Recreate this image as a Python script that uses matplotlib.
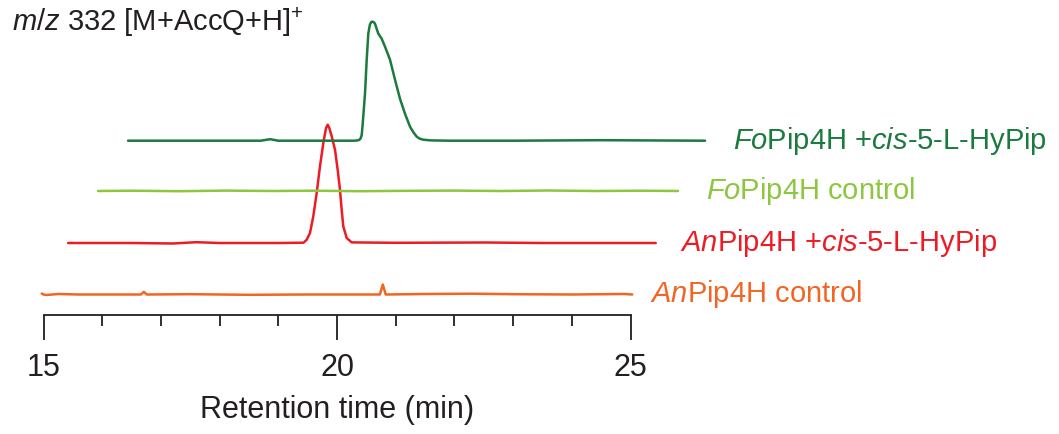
import matplotlib
matplotlib.use("Agg")
import numpy as np
from matplotlib import pyplot as plt

plt.rcParams['font.family'] = ['Liberation Sans', 'DejaVu Sans']
plt.rcParams['mathtext.fontset'] = 'custom'
plt.rcParams['mathtext.rm'] = 'Liberation Sans'
plt.rcParams['mathtext.it'] = 'Liberation Sans:italic'

# traces: retention time (min) and signal above baseline (a.u.)
an_ctrl_t = [14.97, 15.0, 15.05, 15.25, 15.6, 16.0, 16.66, 16.71, 16.76, 17.5, 18.5,
             19.5, 20.5, 20.73, 20.78, 20.83, 21.5, 22.3, 23.0, 24.0, 24.9, 25.03]
an_ctrl_h = [1.0, 0.0, -0.5, 0.5, 0.0, 0.0, 0.0, 2.7, 0.0, 0.3, -0.3,
             0.0, 0.0, 0.0, 10.0, 0.0, 0.5, 0.8, 0.3, 0.0, 0.5, 0.0]

an_hyp_t = [15.42, 16.5, 17.2, 17.6, 18.0, 19.0, 19.43, 19.484, 19.54, 19.596, 19.654,
            19.71, 19.767, 19.813, 19.842, 19.869, 19.91, 19.966, 20.012, 20.051,
            20.08, 20.107, 20.165, 20.25, 21.0, 22.5, 23.5, 25.43]
an_hyp_h = [0.0, 0.0, -0.5, 0.8, 0.0, 0.0, 0.3, 3.3, 10.0, 26.7, 50.0,
            76.7, 100.0, 115.0, 118.3, 115.0, 106.7, 93.3, 73.0, 53.0,
            33.0, 16.7, 5.0, 0.6, 0.2, 0.5, 0.0, 0.0]

fo_ctrl_t = [15.93, 16.5, 17.3, 18.1, 18.9, 19.6, 20.4, 21.2, 22.0, 22.8, 23.6, 24.4, 25.2, 25.81]
fo_ctrl_h = [0.0, 0.3, -0.2, 0.4, 0.0, 0.3, -0.2, 0.2, 0.4, 0.0, 0.5, 0.0, 0.3, 0.0]

fo_hyp_t = [16.44, 18.2, 18.7, 18.86, 19.0, 19.6, 20.3, 20.37, 20.40, 20.421, 20.438, 20.477,
            20.506, 20.533, 20.56, 20.585, 20.608, 20.63, 20.647, 20.704, 20.761, 20.818,
            20.903, 20.988, 21.073, 21.158, 21.244, 21.3, 21.358, 21.41, 21.47, 21.6,
            21.92, 23.0, 24.5, 26.27]
fo_hyp_h = [0.0, 0.0, 0.0, 1.5, 0.0, 0.0, 0.0, 0.5, 2.0, 5.7, 17.0, 47.0,
            81.0, 107.0, 116.0, 118.8, 119.0, 118.3, 117.0, 107.0, 102.0, 94.0,
            81.0, 61.0, 42.0, 27.0, 14.0, 8.5, 4.0, 2.0, 1.0, 0.3,
            0.0, 0.0, 0.5, 0.0]

labels = [r"$\mathit{An}$Pip4H control",
          r"$\mathit{An}$Pip4H +$\mathit{cis}$-5-L-HyPip",
          r"$\mathit{Fo}$Pip4H control",
          r"$\mathit{Fo}$Pip4H +$\mathit{cis}$-5-L-HyPip"]
colors = ['#F26522', '#ED1C24', '#8DC63F', '#1B7A3E']
baselines = [20.5, 72.0, 124.0, 174.3]
label_x = [25.33, 25.84, 26.29, 26.74]

traces = [(an_ctrl_t, an_ctrl_h), (an_hyp_t, an_hyp_h),
          (fo_ctrl_t, fo_ctrl_h), (fo_hyp_t, fo_hyp_h)]

W, H = 1059, 434
fig = plt.figure(figsize=(W / 100, H / 100), dpi=100)
ax = fig.add_axes([43.5 / W, (H - 315) / H, (630.5 - 43.5) / W, 315 / H])
ax.set_xlim(15, 25)
ax.set_ylim(0, 315)

for (t, h), c, b, lab, lx in zip(traces, colors, baselines, labels, label_x):
    ax.plot(t, np.array(h) + b, color=c, lw=1.8, clip_on=False,
            solid_joinstyle='round', solid_capstyle='round')
    ax.text(lx, b, lab, color=c, fontsize=21, va='center', ha='left', clip_on=False)

dark = '#231F20'
for s in ['top', 'right', 'left']:
    ax.spines[s].set_visible(False)
ax.spines['bottom'].set_color(dark)
ax.spines['bottom'].set_linewidth(1.3)
ax.set_yticks([])
ax.set_xticks([15, 20, 25])
ax.set_xticks(np.arange(15, 26, 1), minor=True)
ax.tick_params(axis='x', which='major', direction='out', length=18, width=1.3,
               color=dark, labelsize=22, labelcolor=dark, pad=9)
ax.tick_params(axis='x', which='minor', direction='out', length=8, width=1.3, color=dark)

fig.text(12 / W, 1 - 22 / H, r"$\mathit{m/z}$ 332 [M+AccQ+H]$^{+}$", fontsize=21,
         color=dark, ha='left', va='center')
fig.text(337 / W, 1 - 410 / H, "Retention time (min)", fontsize=22, color=dark,
         ha='center', va='center')

fig.savefig("out.png", dpi=100)
